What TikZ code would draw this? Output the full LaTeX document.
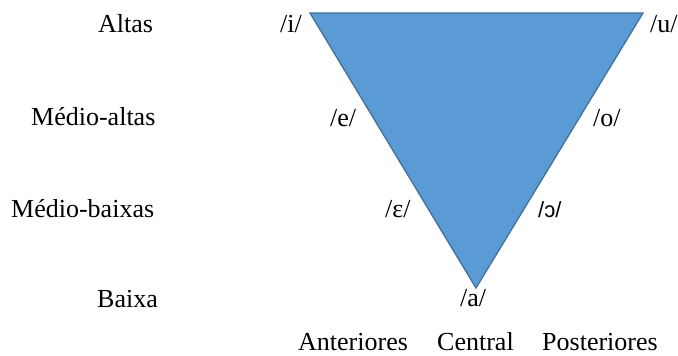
\documentclass[tikz,border=0pt]{standalone}
\usepackage{fontspec}
\setmainfont{Liberation Serif}
\newfontfamily\ipasans{Liberation Sans}
\definecolor{trifill}{HTML}{5B9BD5}
\definecolor{triline}{HTML}{41719C}
\begin{document}
\begin{tikzpicture}[x=1pt,y=-1pt,
  lbl/.style={anchor=base west,inner sep=0pt,font=\fontsize{26}{30}\selectfont},
  tri/.style={fill=trifill,draw=triline,line width=1.3pt,line join=miter}]
\useasboundingbox (0,0) rectangle (678,356);
\coordinate (tl) at (310,13);
\coordinate (tr) at (643,13);
\coordinate (bt) at (476,288);
\path[tri] (tl) -- (tr) -- (bt) -- cycle;
% row labels
\node[lbl] (altas) at (98,32) {Altas};
\node[lbl] (medalt) at (31,125) {Médio-altas};
\node[lbl] (medbai) at (11,217) {Médio-baixas};
\node[lbl] (baixa) at (97,307) {Baixa};
% vowels
\node[lbl] (vi) at (280,32) {/i/};
\node[lbl] (vu) at (650,32) {/u/};
\node[lbl] (ve) at (330,126) {/e/};
\node[lbl] (vo) at (593,126) {/o/};
\node[lbl] (veps) at (385,217) {/ε/};
\node[lbl,font=\fontsize{22}{26}\selectfont\ipasans] (vopen) at (538,217) {/ɔ/};
\node[lbl] (va) at (460,306) {/a/};
% columns
\node[lbl] (ant) at (298,350) {Anteriores};
\node[lbl] (cen) at (437,350) {Central};
\node[lbl] (post) at (542,350) {Posteriores};
\end{tikzpicture}
\end{document}
